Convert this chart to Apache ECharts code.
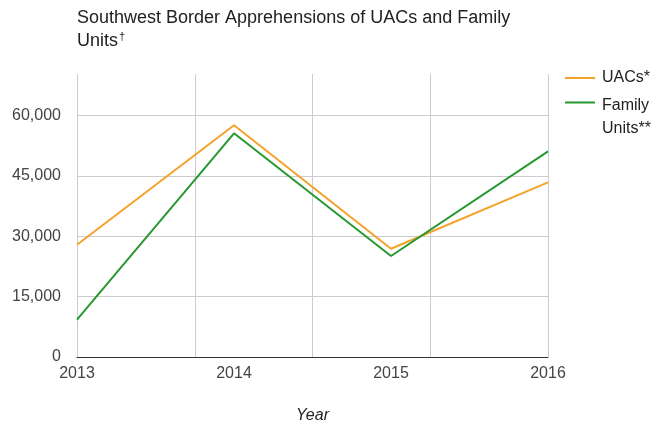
<!DOCTYPE html>
<html>
<head>
<meta charset="utf-8">
<script src="https://cdn.jsdelivr.net/npm/echarts@6/dist/echarts.min.js"></script>
<style>
  html, body { margin: 0; padding: 0; background: #fff; }
  #chart { width: 660px; height: 429px; }
</style>
</head>
<body>
<div id="chart"></div>
<script>
// Fiscal years on the horizontal axis
const years = [2013, 2014, 2015, 2016];
// Apprehensions of unaccompanied alien children
const uacs = [27900, 57600, 26900, 43400];
// Apprehensions of family units
const familyUnits = [9300, 55600, 25100, 51100];
const seriesNames = ['UACs*', 'Family Units**'];

const font = 'Arial, "Liberation Sans", sans-serif';
const colors = ['#f5a22a', '#26982f'];

const chart = echarts.init(document.getElementById('chart'));
chart.setOption({
  animation: false,
  color: colors,
  textStyle: { fontFamily: font },
  title: {
    text: 'Southwest Border Apprehensions of UACs and Family\nUnits{sup|†}',
    left: 77,
    top: 7,
    padding: 0,
    textStyle: {
      fontFamily: font,
      fontSize: 18,
      fontWeight: 'normal',
      color: '#222',
      lineHeight: 23,
      rich: { sup: { fontSize: 11, fontFamily: font, color: '#222', padding: [0, 0, 9, 1] } }
    }
  },
  legend: [
    {
      orient: 'vertical',
      left: 565,
      top: 66.5,
      padding: 0,
      itemWidth: 30,
      itemHeight: 2,
      icon: 'rect',
      selectedMode: false,
      textStyle: { fontFamily: font, fontSize: 16, color: '#222', lineHeight: 23, padding: [0, 0, 0, 2] },
      data: [seriesNames[0]]
    },
    {
      // two-line entry; the spacer row keeps the swatch level with the first line
      orient: 'vertical',
      left: 565,
      top: 79,
      padding: 0,
      itemWidth: 30,
      itemHeight: 2,
      icon: 'rect',
      selectedMode: false,
      formatter: () => '{s| }\n{t|Family}\n{t|Units**}',
      textStyle: {
        fontFamily: font, fontSize: 16, color: '#222', padding: [0, 0, 0, 2],
        rich: {
          s: { fontSize: 1, lineHeight: 30 },
          t: { fontFamily: font, fontSize: 16, color: '#222', lineHeight: 23 }
        }
      },
      data: [seriesNames[1]]
    }
  ],
  grid: { left: 77, right: 112, top: 74, bottom: 65, containLabel: false },
  xAxis: [
    {
      // vertical rules every three quarters of a year
      type: 'value', min: 2013, max: 2016, interval: 0.75,
      axisLine: { show: false }, axisTick: { show: false }, axisLabel: { show: false },
      splitLine: { show: true, lineStyle: { color: '#cccccc', width: 1 } }
    },
    {
      type: 'value', min: 2013, max: 2016, interval: 1, position: 'bottom',
      axisLine: { show: true, onZero: false, lineStyle: { color: '#333', width: 1 } },
      axisTick: { show: false },
      splitLine: { show: false },
      axisLabel: { color: '#444', fontSize: 16, fontFamily: font, margin: 9, formatter: v => String(v) },
      name: 'Year',
      nameLocation: 'middle',
      nameGap: 51,
      nameTextStyle: { fontStyle: 'italic', color: '#222', fontSize: 16, fontFamily: font }
    }
  ],
  yAxis: {
    type: 'value', min: 0, max: 70350, interval: 15000,
    axisLine: { show: false }, axisTick: { show: false },
    splitLine: { show: true, showMaxLine: false, showMinLine: false, lineStyle: { color: '#cccccc', width: 1 } },
    axisLabel: {
      color: '#444', fontSize: 16, fontFamily: font, margin: 16,
      formatter: v => (v % 15000 === 0 ? v.toLocaleString('en-US') : '')
    }
  },
  series: [
    {
      name: seriesNames[0], type: 'line', xAxisIndex: 1,
      data: years.map((y, i) => [y, uacs[i]]),
      showSymbol: false, symbol: 'none',
      lineStyle: { color: colors[0], width: 2 }, itemStyle: { color: colors[0] }
    },
    {
      name: seriesNames[1], type: 'line', xAxisIndex: 1,
      data: years.map((y, i) => [y, familyUnits[i]]),
      showSymbol: false, symbol: 'none',
      lineStyle: { color: colors[1], width: 2 }, itemStyle: { color: colors[1] }
    }
  ]
});
</script>
</body>
</html>
